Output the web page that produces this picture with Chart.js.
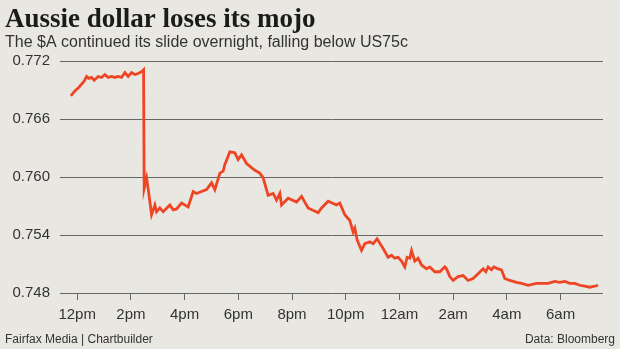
<!DOCTYPE html>
<html>
<head>
<meta charset="utf-8">
<script src="https://cdn.jsdelivr.net/npm/chart.js@4.4.1/dist/chart.umd.min.js"></script>
<style>
  html, body { margin: 0; padding: 0; background: #e9e7e2; }
  #wrap { position: relative; width: 620px; height: 349px; }
</style>
</head>
<body>
<div id="wrap"><canvas id="myChart" width="620" height="349"></canvas></div>
<script>
// hours after 12pm (Sydney time) and the AUD/USD rate
const hours = [
  -0.235, -0.086, 0.037, 0.164, 0.261, 0.350, 0.436, 0.536, 0.633, 0.782,
  0.908, 1.031, 1.154, 1.281, 1.404, 1.526, 1.653, 1.776, 1.899, 2.025,
  2.148, 2.271, 2.398, 2.472, 2.494, 2.584, 2.643, 2.770, 2.893, 2.956,
  3.079, 3.202, 3.451, 3.574, 3.701, 3.887, 4.133, 4.319, 4.445, 4.631,
  4.818, 5.004, 5.127, 5.313, 5.436, 5.499, 5.685, 5.871, 5.994, 6.121,
  6.307, 6.616, 6.802, 6.925, 7.111, 7.297, 7.424, 7.547, 7.610, 7.856,
  8.168, 8.354, 8.600, 8.972, 9.099, 9.345, 9.657, 9.780, 9.967, 10.153,
  10.276, 10.339, 10.424, 10.588, 10.711, 10.897, 11.020, 11.169, 11.392, 11.578,
  11.705, 11.828, 11.951, 12.077, 12.200, 12.286, 12.386, 12.450, 12.572, 12.695,
  12.822, 13.008, 13.131, 13.317, 13.503, 13.690, 13.753, 13.876, 13.999, 14.185,
  14.371, 14.557, 14.743, 14.929, 15.115, 15.216, 15.301, 15.428, 15.514, 15.674,
  15.800, 15.923, 16.109, 16.359, 16.545, 16.791, 17.104, 17.290, 17.536, 17.785,
  17.971, 18.157, 18.343, 18.529, 18.715, 18.901, 19.087, 19.273, 19.397,
];
const rate = [
  0.7684, 0.7689, 0.7692, 0.7696, 0.7699, 0.7704, 0.7702, 0.7703, 0.7700, 0.7704,
  0.7703, 0.7706, 0.7703, 0.7704, 0.7703, 0.7704, 0.7703, 0.7708, 0.7704, 0.7708,
  0.7706, 0.7707, 0.7709, 0.7711, 0.7588, 0.7599, 0.7588, 0.7561, 0.7571, 0.7564,
  0.7568, 0.7564, 0.7571, 0.7566, 0.7567, 0.7573, 0.7569, 0.7585, 0.7583, 0.7585,
  0.7587, 0.7594, 0.7587, 0.7604, 0.7606, 0.7613, 0.7626, 0.7625, 0.7618, 0.7623,
  0.7614, 0.7607, 0.7604, 0.7599, 0.7581, 0.7583, 0.7576, 0.7583, 0.7571, 0.7578,
  0.7574, 0.7580, 0.7568, 0.7563, 0.7568, 0.7575, 0.7571, 0.7573, 0.7561, 0.7555,
  0.7543, 0.7547, 0.7535, 0.7524, 0.7531, 0.7533, 0.7531, 0.7536, 0.7526, 0.7517,
  0.7519, 0.7516, 0.7517, 0.7513, 0.7507, 0.7517, 0.7516, 0.7524, 0.7513, 0.7516,
  0.7509, 0.7505, 0.7507, 0.7502, 0.7502, 0.7507, 0.7505, 0.7497, 0.7493, 0.7497,
  0.7498, 0.7493, 0.7495, 0.7500, 0.7505, 0.7502, 0.7507, 0.7504, 0.7507, 0.7505,
  0.7504, 0.7495, 0.7493, 0.7491, 0.7490, 0.7488, 0.7490, 0.7490, 0.7490, 0.7492,
  0.7491, 0.7492, 0.7490, 0.7490, 0.7488, 0.7487, 0.7486, 0.7487, 0.7488,
];
const tickLabels = ['12pm', '2pm', '4pm', '6pm', '8pm', '10pm', '12am', '2am', '4am', '6am'];

const title = 'Aussie dollar loses its mojo';
const subtitle = 'The $A continued its slide overnight, falling below US75c';
const source = 'Fairfax Media | Chartbuilder';
const credit = 'Data: Bloomberg';

// titles and footer text drawn onto the canvas
const textPlugin = {
  id: 'texts',
  afterDraw(chart) {
    const ctx = chart.ctx;
    ctx.save();
    ctx.textBaseline = 'alphabetic';
    ctx.fillStyle = '#1b1b1b';
    ctx.textAlign = 'left';
    ctx.font = 'bold 27px "Liberation Serif", serif';
    ctx.fillText(title, 5, 27);
    ctx.fillStyle = '#333';
    ctx.font = '16px "Liberation Sans", sans-serif';
    ctx.fillText(subtitle, 5, 47);
    ctx.font = '12px "Liberation Sans", sans-serif';
    ctx.fillText(source, 5, 343);
    ctx.textAlign = 'right';
    ctx.fillText(credit, 615, 343);
    ctx.restore();
  },
};

const canvas = document.getElementById('myChart');

const chart = new Chart(canvas, {
  type: 'line',
  data: {
    datasets: [
      {
        data: hours.map((h, i) => ({ x: h, y: rate[i] })),
        borderColor: '#ee4524',
        borderWidth: 2.8,
        pointRadius: 0,
        tension: 0,
        fill: false,
      },
    ],
  },
  options: {
    responsive: false,
    animation: false,
    devicePixelRatio: 1,
    layout: {
      padding: { top: 61, right: 17, left: 0, bottom: 0 },
    },
    plugins: {
      legend: { display: false },
      tooltip: { enabled: false },
    },
    scales: {
      x: {
        type: 'linear',
        min: -0.64,
        max: 19.58,
        afterFit: (scale) => { scale.height = 56; },
        border: { display: false },
        grid: {
          drawOnChartArea: false,
          drawTicks: true,
          tickLength: 7,
          color: '#666',
        },
        ticks: {
          stepSize: 2,
          includeBounds: false,
          autoSkip: false,
          maxRotation: 0,
          padding: 6,
          color: '#333',
          font: { family: '"Liberation Sans", sans-serif', size: 15 },
          callback: (v) => tickLabels[Math.round(v / 2)],
        },
      },
      y: {
        min: 0.748,
        max: 0.772,
        afterFit: (scale) => { scale.width = 60; },
        border: { display: false },
        grid: { drawTicks: false, color: '#666', lineWidth: 1 },
        ticks: {
          stepSize: 0.006,
          padding: 10,
          color: '#333',
          font: { family: '"Liberation Sans", sans-serif', size: 15 },
          callback: (v) => v.toFixed(3),
        },
      },
    },
  },
  plugins: [textPlugin],
});
</script>
</body>
</html>
